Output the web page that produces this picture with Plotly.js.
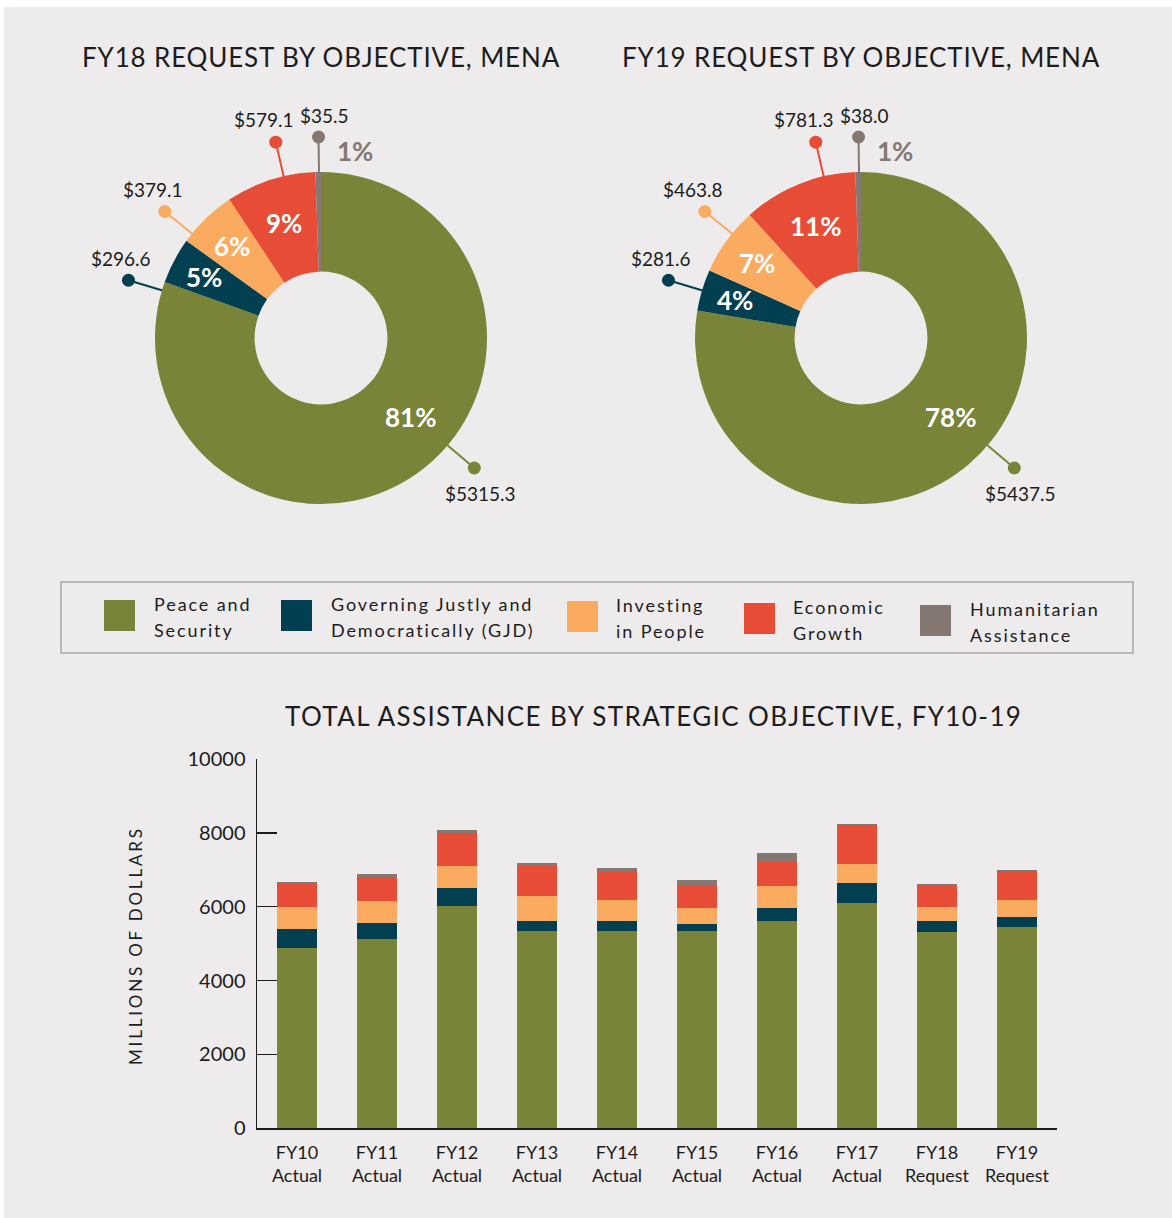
<!DOCTYPE html>
<html>
<head>
<meta charset="utf-8">
<script src="https://cdn.plot.ly/plotly-3.0.1.min.js"></script>
<style>
html,body{margin:0;padding:0;background:#ffffff;}
#chart{position:absolute;left:4px;top:7px;width:1168px;height:1211px;}
</style>
</head>
<body>
<div id="chart"></div>
<script>
// ---------- DATA ----------
const objectives = ["Peace and Security", "Governing Justly and Democratically (GJD)", "Investing in People", "Economic Growth", "Humanitarian Assistance"];
const legendLines = [["Peace and", "Security"], ["Governing Justly and", "Democratically (GJD)"], ["Investing", "in People"], ["Economic", "Growth"], ["Humanitarian", "Assistance"]];

const fy18Values = [5315.3, 296.6, 379.1, 579.1, 35.5];
const fy18Pct = ["81%", "5%", "6%", "9%", "1%"];
const fy19Values = [5437.5, 281.6, 463.8, 781.3, 38.0];
const fy19Pct = ["78%", "4%", "7%", "11%", "1%"];

const years = ["FY10 Actual", "FY11 Actual", "FY12 Actual", "FY13 Actual", "FY14 Actual", "FY15 Actual", "FY16 Actual", "FY17 Actual", "FY18 Request", "FY19 Request"];
const peaceSecurity = [4883, 5127, 6020, 5343, 5343, 5343, 5614, 6102, 5315.3, 5437.5];
const governingJustly = [515, 433, 488, 271, 271, 190, 352, 541, 296.6, 281.6];
const investingPeople = [595, 596, 595, 677, 569, 433, 596, 515, 379.1, 463.8];
const economicGrowth = [632, 650, 894, 821, 767, 623, 659, 1056, 579.1, 781.3];
const humanitarian = [45, 81, 81, 73, 99, 135, 234, 27, 35.5, 38.0];
const yTicks = [0, 2000, 4000, 6000, 8000, 10000];

// ---------- STYLE ----------
const colors = ["#7a8439", "#023f51", "#fbab5f", "#e74c37", "#857872"];
const BG = "#edebeb";
const INK = "#1c1c1c";
const FONT = "Lato, 'Open Sans', sans-serif";

const OX = 4, OY = 7, W = 1168, H = 1211;
const px = x => (x - OX) / W;
const py = y => 1 - (y - OY) / H;

const R = 166;            // pie radius (px)
const S = 266;            // overlay half size (px)
const pies = [
  {cx: 321, cy: 338, values: fy18Values, pct: fy18Pct, title: "FY18 REQUEST BY OBJECTIVE, MENA", ax: "x2", ay: "y2"},
  {cx: 861, cy: 338, values: fy19Values, pct: fy19Pct, title: "FY19 REQUEST BY OBJECTIVE, MENA", ax: "x3", ay: "y3"}
];
// callout template (same for both pies, as in the original design)
const calloutAngle = [130.3, 286.7, 309, 347, 359.3];
const calloutR = 201;
const calloutText = [[6, -26], [-7, 22], [-12, 22], [-12, 23], [6, 22]];
const pctR = [119, 132, 128, 121];
const smallPct = {angle: 10.3, r: 190};

const deg = Math.PI / 180;
const polar = (a, r) => [r * Math.sin(a * deg), r * Math.cos(a * deg)];

const traces = [];
const annotations = [];
const shapes = [];

pies.forEach((p, k) => {
  traces.push({
    type: "pie", values: p.values, labels: objectives, sort: false, direction: "clockwise", rotation: 0,
    hole: 0.4, textinfo: "none", hoverinfo: "none", showlegend: false,
    marker: {colors: colors, line: {width: 0}},
    domain: {x: [px(p.cx - R), px(p.cx + R)], y: [py(p.cy + R), py(p.cy - R)]}
  });
  const total = p.values.reduce((a, b) => a + b, 0);
  let cum = 0;
  const mids = p.values.map(v => { const m = (cum + v / 2) / total * 360; cum += v; return m; });
  p.values.forEach((v, i) => {
    const a = calloutAngle[i];
    const [x0, y0] = polar(a, R - 30);
    const [x1, y1] = polar(a, calloutR);
    traces.push({
      type: "scatter", mode: "lines", x: [x0, x1], y: [y0, y1], xaxis: p.ax, yaxis: p.ay,
      line: {color: colors[i], width: 2}, hoverinfo: "skip", showlegend: false
    });
    traces.push({
      type: "scatter", mode: "markers", x: [x1], y: [y1], xaxis: p.ax, yaxis: p.ay,
      marker: {color: colors[i], size: 13, line: {width: 0}},
      hoverinfo: "skip", showlegend: false, cliponaxis: false
    });
    annotations.push({
      xref: p.ax, yref: p.ay, x: x1 + calloutText[i][0], y: y1 + calloutText[i][1],
      xanchor: "center", yanchor: "middle",
      text: "$" + v.toFixed(1), showarrow: false, font: {family: FONT, size: 19, color: INK}
    });
    // percentage labels
    let lx, ly, col = "#ffffff";
    if (i === 4) {
      [lx, ly] = polar(smallPct.angle, smallPct.r); col = colors[4];
    } else {
      const la = (i === 0) ? calloutAngle[0] + 1 : mids[i];
      [lx, ly] = polar(la, pctR[i]);
    }
    annotations.push({
      xref: p.ax, yref: p.ay, x: lx, y: ly, xanchor: "center", yanchor: "middle",
      text: "<b>" + p.pct[i] + "</b>", showarrow: false,
      font: {family: FONT, size: 26, color: col, weight: 900}
    });
  });
  annotations.push({
    xref: "paper", yref: "paper", x: px(p.cx), y: py(57), xanchor: "center", yanchor: "middle",
    text: '<span style="letter-spacing:0.85px">' + p.title + '</span>', showarrow: false,
    font: {family: FONT, size: 26, color: INK}
  });
});

// ---------- BAR CHART ----------
const seriesVals = [peaceSecurity, governingJustly, investingPeople, economicGrowth, humanitarian];
seriesVals.forEach((vals, i) => {
  traces.push({
    type: "bar", x: years, y: vals, name: objectives[i], marker: {color: colors[i], line: {width: 0}},
    xaxis: "x", yaxis: "y", hoverinfo: "skip", showlegend: false
  });
});

annotations.push({
  xref: "paper", yref: "paper", x: px(653), y: py(716), xanchor: "center", yanchor: "middle",
  text: '<span style="letter-spacing:1.4px">TOTAL ASSISTANCE BY STRATEGIC OBJECTIVE, FY10-19</span>',
  showarrow: false, font: {family: FONT, size: 26, color: INK}
});
annotations.push({
  xref: "paper", yref: "paper", x: px(135), y: py(946), xanchor: "center", yanchor: "middle", textangle: -90,
  text: '<span style="letter-spacing:2.8px">MILLIONS OF DOLLARS</span>',
  showarrow: false, font: {family: FONT, size: 17, color: INK}
});

// ---------- LEGEND (custom, large swatches) ----------
shapes.push({type: "rect", xref: "paper", yref: "paper", x0: px(61), x1: px(1133), y0: py(653), y1: py(582),
  line: {color: "#aaa7a7", width: 1.5}, fillcolor: "rgba(0,0,0,0)"});
const legSwatch = [[104, 600], [281, 600], [567, 601], [744, 603], [920, 605]];
const legText = [152, 329, 614, 791, 968];
legendLines.forEach((lines, i) => {
  const [sx, sy] = legSwatch[i];
  shapes.push({type: "rect", xref: "paper", yref: "paper", x0: px(sx), x1: px(sx + 31), y0: py(sy + 31), y1: py(sy),
    fillcolor: colors[i], line: {width: 0}});
  lines.forEach((t, j) => {
    annotations.push({
      xref: "paper", yref: "paper", x: px(legText[i]), y: py(sy + 4 + j * 26), xanchor: "left", yanchor: "middle",
      text: '<span style="letter-spacing:1.9px">' + t + '</span>', showarrow: false,
      font: {family: FONT, size: 18, color: INK}
    });
  });
});

const overlayAxis = (cx, horizontal) => ({
  domain: horizontal ? [px(cx - S), px(cx + S)] : [py(338 + S), py(338 - S)],
  range: [-S, S], visible: false, fixedrange: true, showgrid: false, zeroline: false
});

const layout = {
  width: W, height: H, margin: {l: 0, r: 0, t: 0, b: 0},
  paper_bgcolor: BG, plot_bgcolor: "rgba(0,0,0,0)",
  barmode: "stack", bargap: 0.51, showlegend: false,
  font: {family: FONT, color: INK},
  xaxis: {
    domain: [px(257), px(1057)], anchor: "y", type: "category", range: [-0.5, 9.5],
    tickvals: years, ticktext: years.map(s => s.replace(" ", "<br>")),
    showline: true, linecolor: INK, linewidth: 2, ticks: "", showgrid: false, zeroline: false,
    tickfont: {family: FONT, size: 18, color: INK}, ticklabelstandoff: 7, fixedrange: true
  },
  yaxis: {
    domain: [py(1128.3), py(759)], anchor: "x", range: [0, 10000], tickvals: yTicks, tickformat: "d",
    showline: true, linecolor: INK, linewidth: 1.5, ticks: "inside", ticklen: 20, tickwidth: 1.5, tickcolor: INK,
    showgrid: false, zeroline: false, tickfont: {family: FONT, size: 20, color: INK}, ticklabelstandoff: 6, fixedrange: true
  },
  xaxis2: Object.assign(overlayAxis(321, true), {anchor: "y2"}),
  yaxis2: Object.assign(overlayAxis(321, false), {anchor: "x2"}),
  xaxis3: Object.assign(overlayAxis(861, true), {anchor: "y3"}),
  yaxis3: Object.assign(overlayAxis(861, false), {anchor: "x3"}),
  shapes: shapes,
  annotations: annotations
};

Plotly.newPlot("chart", traces, layout, {displayModeBar: false, staticPlot: true});
</script>
</body>
</html>
